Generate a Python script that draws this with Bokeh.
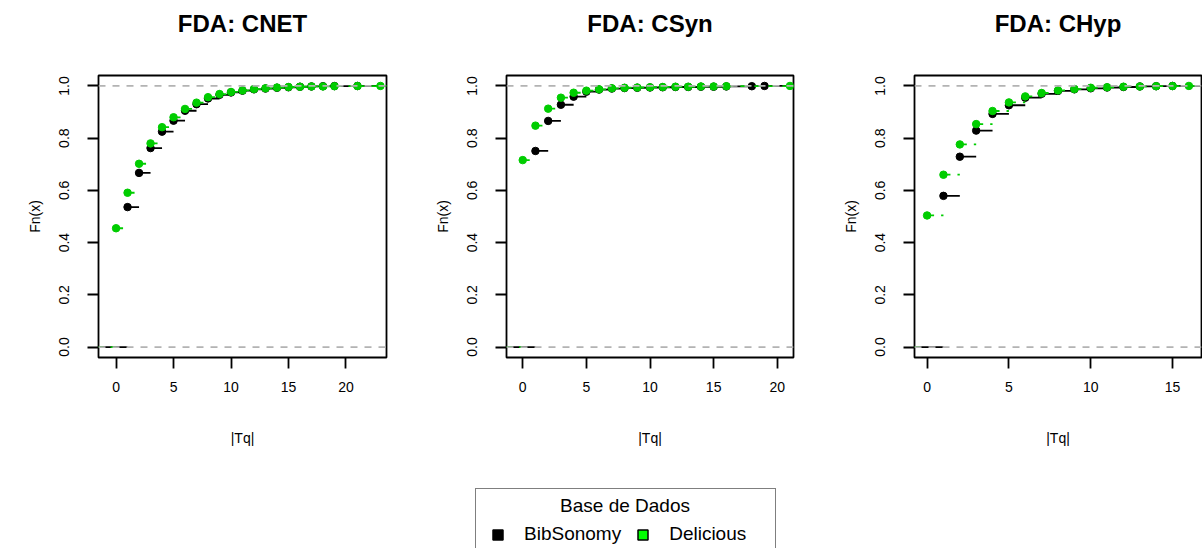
import numpy as np
from bokeh.plotting import figure
from bokeh.models import (Range1d, FixedTicker, Span, Legend, LegendItem, Title, Label)
from bokeh.layouts import row, column
from bokeh.embed import file_html
from bokeh.resources import INLINE

# ---------------- data ----------------
panel_titles = ["FDA: CNET", "FDA: CSyn", "FDA: CHyp"]
series_names = ["BibSonomy", "Delicious"]
legend_title = "Base de Dados"
x_label = "|Tq|"
y_label = "Fn(x)"
y_ticks = [0.0, 0.2, 0.4, 0.6, 0.8, 1.0]
y_tick_labels = ["0.0", "0.2", "0.4", "0.6", "0.8", "1.0"]
x_ticks_cnet = [0, 5, 10, 15, 20]
x_ticks_csyn = [0, 5, 10, 15, 20]
x_ticks_chyp = [0, 5, 10, 15]

# CNET
cnet_bib_x = [1, 2, 3, 4, 5, 6, 7, 8, 9, 10, 11, 12, 13, 14, 15, 16, 17, 18, 19, 21]
cnet_bib_y = [0.536, 0.667, 0.762, 0.825, 0.867, 0.905, 0.930, 0.952, 0.966, 0.975,
              0.982, 0.987, 0.990, 0.993, 0.995, 0.997, 0.998, 0.999, 0.9995, 1.0]
cnet_del_x = [0, 1, 2, 3, 4, 5, 6, 7, 8, 9, 10, 11, 12, 13, 14, 15, 16, 17, 18, 19, 21, 23]
cnet_del_y = [0.455, 0.591, 0.702, 0.780, 0.842, 0.880, 0.912, 0.936, 0.957, 0.969, 0.977,
              0.983, 0.988, 0.991, 0.994, 0.996, 0.997, 0.998, 0.998, 0.999, 0.9995, 1.0]
# CSyn
csyn_bib_x = [1, 2, 3, 4, 5, 6, 7, 8, 9, 10, 11, 12, 13, 14, 15, 16, 18, 19]
csyn_bib_y = [0.751, 0.866, 0.928, 0.959, 0.978, 0.986, 0.990, 0.992, 0.993, 0.994,
              0.995, 0.996, 0.996, 0.997, 0.997, 0.998, 0.999, 1.0]
csyn_del_x = [0, 1, 2, 3, 4, 5, 6, 7, 8, 9, 10, 11, 12, 13, 14, 15, 16, 21]
csyn_del_y = [0.716, 0.848, 0.913, 0.955, 0.974, 0.982, 0.987, 0.991, 0.993, 0.994,
              0.995, 0.996, 0.997, 0.997, 0.998, 0.998, 0.999, 1.0]
# CHyp
chyp_bib_x = [1, 2, 3, 4, 5, 6, 7, 8, 9, 10, 11, 12, 13, 14, 15]
chyp_bib_y = [0.579, 0.729, 0.829, 0.893, 0.926, 0.955, 0.970, 0.981, 0.987, 0.991,
              0.994, 0.996, 0.998, 0.999, 1.0]
chyp_del_x = [0, 1, 2, 3, 4, 5, 6, 7, 8, 9, 10, 11, 12, 13, 14, 15, 16]
chyp_del_y = [0.504, 0.660, 0.776, 0.854, 0.904, 0.937, 0.960, 0.973, 0.983, 0.988,
              0.993, 0.995, 0.997, 0.998, 0.999, 0.9995, 1.0]

# ---------------- style ----------------
FONT = "Liberation Sans"
BLACK = "#000000"
GREEN = "#00CD00"
LEGEND_GREEN = "#00FF00"
GRAY = "#B3B3B3"
LW = 1.8


def r_xlim(knots):
    k = np.asarray(knots, dtype=float)
    lo, hi = k.min(), k.max()
    dr = max(0.08 * (hi - lo), float(np.median(np.diff(k))))
    a, b = lo - dr, hi + dr
    ext = 0.04 * (b - a)
    return a - ext, b + ext, dr


def step_segments(knots, vals, lo, hi):
    k = list(knots)
    x0 = [lo] + k
    x1 = k + [hi]
    y = [0.0] + list(vals)
    return x0, x1, y


def make_panel(title, bx, by, dx, dy, xticks, width, left, right):
    xa, xb, dr = r_xlim(bx)
    lo = xa - 10 * dr
    hi = xb + 10 * dr
    p = figure(width=width, height=486,
               x_range=Range1d(xa, xb), y_range=Range1d(-0.04, 1.04),
               output_backend="svg", toolbar_location=None,
               min_border_left=left, min_border_right=right,
               min_border_top=75, min_border_bottom=129)
    # blank spacer between the title and the frame
    p.add_layout(Title(text="\u00a0", text_font_size="2px", standoff=35), "above")

    p.title.text = title
    p.title.align = "center"
    p.title.vertical_align = "bottom"
    p.title.text_font = FONT
    p.title.text_font_size = "24px"
    p.title.text_font_style = "bold"
    p.title.text_color = "black"
    p.title.standoff = 0
    p.grid.visible = False
    p.outline_line_color = "black"
    p.outline_line_width = LW
    p.outline_line_alpha = 1.0
    p.background_fill_color = "white"
    p.border_fill_color = "white"

    xax = p.below[0]
    yax = p.left[0]
    for ax in (xax, yax):
        ax.axis_line_color = None
        ax.minor_tick_line_color = None
        ax.major_tick_in = 0
        ax.major_tick_out = 11
        ax.major_tick_line_width = LW
        ax.major_label_text_font = FONT
        ax.major_label_text_font_size = "14px"
        ax.major_label_text_color = "black"
        ax.axis_label_text_font = FONT
        ax.axis_label_text_font_size = "14px"
        ax.axis_label_text_font_style = "normal"
        ax.axis_label_text_color = "black"

    xax.ticker = FixedTicker(ticks=xticks)
    xax.axis_label = x_label
    xax.major_label_standoff = 13
    xax.axis_label_standoff = 35

    yax.ticker = FixedTicker(ticks=y_ticks)
    yax.major_label_overrides = {t: s for t, s in zip(y_ticks, y_tick_labels)}
    yax.major_label_orientation = "parallel"
    yax.axis_label = y_label
    yax.major_label_standoff = 18
    yax.axis_label_standoff = 14

    # BibSonomy (black, solid)
    x0, x1, y = step_segments(bx, by, lo, hi)
    p.segment(x0=x0, y0=y, x1=x1, y1=y, line_color=BLACK, line_width=LW)
    p.scatter(x=bx, y=by, size=7.5, fill_color=BLACK, line_color=BLACK)
    # Delicious (green, dashed)
    x0, x1, y = step_segments(dx, dy, lo, hi)
    p.segment(x0=x0, y0=y, x1=x1, y1=y, line_color=GREEN, line_width=LW, line_dash="7 7")
    p.scatter(x=dx, y=dy, size=7.5, fill_color=GREEN, line_color=GREEN)

    for h in (0.0, 1.0):
        p.add_layout(Span(location=h, dimension="width", line_color=GRAY,
                          line_width=LW, line_dash="7 7"))
    return p


p1 = make_panel(panel_titles[0], cnet_bib_x, cnet_bib_y, cnet_del_x, cnet_del_y,
                x_ticks_cnet, 400, 98, 14)
p2 = make_panel(panel_titles[1], csyn_bib_x, csyn_bib_y, csyn_del_x, csyn_del_y,
                x_ticks_csyn, 401, 106, 8)
p3 = make_panel(panel_titles[2], chyp_bib_x, chyp_bib_y, chyp_del_x, chyp_del_y,
                x_ticks_chyp, 401, 113, 1)

# ---------------- legend ----------------
LEG_LEFT = 475
LEG_WIDTH = 299
lf = figure(width=1202, height=62, x_range=Range1d(0, 1202), y_range=Range1d(0, 62),
            output_backend="svg", toolbar_location=None, min_border=0,
            x_axis_location=None, y_axis_location=None)
lf.outline_line_color = None
lf.grid.visible = False
r1 = lf.scatter(x=cnet_bib_x, y=cnet_bib_y, marker="square", fill_color=BLACK,
                line_color=BLACK, line_width=1.5, visible=False)
r2 = lf.scatter(x=cnet_del_x, y=cnet_del_y, marker="square", fill_color=LEGEND_GREEN,
                line_color=BLACK, line_width=1.5, visible=False)
legend = Legend(items=[LegendItem(label=series_names[0], renderers=[r1]),
                       LegendItem(label=series_names[1], renderers=[r2])],
                orientation="horizontal", location=(LEG_LEFT, -8.8),
                title="\u00a0")
legend.title_text_font = FONT
legend.title_text_font_size = "19px"
legend.title_text_font_style = "normal"
legend.title_standoff = 2
legend.label_text_font = FONT
legend.label_text_font_size = "19px"
legend.label_text_color = "black"
legend.label_standoff = 14
legend.label_width = 97
legend.glyph_width = 25
legend.glyph_height = 25
legend.spacing = 9
legend.padding = 9
legend.margin = 0
legend.border_line_color = "black"
legend.border_line_width = 1.5
legend.background_fill_alpha = 0.0
legend.click_policy = "none"
lf.add_layout(legend)

title_label = Label(x=LEG_LEFT + LEG_WIDTH / 2, y=43, x_units="data", y_units="data",
                    text=legend_title, text_align="center", text_baseline="middle",
                    text_font=FONT, text_font_size="19px", text_color="black")
lf.add_layout(title_label)

layout = column(row(p1, p2, p3), lf)
open("out.html", "w").write(file_html(layout, INLINE))
